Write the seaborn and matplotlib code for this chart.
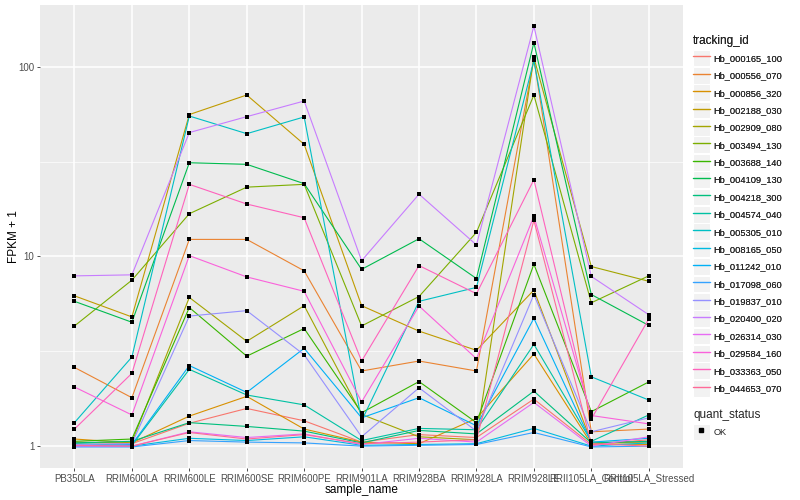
import numpy as np
import pandas as pd
import matplotlib
matplotlib.use("Agg")
import matplotlib.pyplot as plt
import seaborn as sns
from matplotlib.lines import Line2D
from matplotlib.patches import Rectangle
from matplotlib.legend_handler import HandlerLine2D
from matplotlib.ticker import FixedLocator, NullFormatter

# --- data (FPKM + 1) ---
samples = ["PB350LA", "RRIM600LA", "RRIM600LE", "RRIM600SE", "RRIM600PE", "RRIM901LA",
           "RRIM928BA", "RRIM928LA", "RRIM928LE", "RRII105LA_Control", "RRII105LA_Stressed"]

tracking_ids = ["Hb_000165_100", "Hb_000556_070", "Hb_000856_320", "Hb_002188_030",
                "Hb_002909_080", "Hb_003494_130", "Hb_003688_140", "Hb_004109_130",
                "Hb_004218_300", "Hb_004574_040", "Hb_005305_010", "Hb_008165_050",
                "Hb_011242_010", "Hb_017098_060", "Hb_019837_010", "Hb_020400_020",
                "Hb_026314_030", "Hb_029584_160", "Hb_033363_050", "Hb_044653_070"]

hb_000165_100 = [1.05, 1.03, 1.32, 1.58, 1.36, 1.05, 1.15, 1.11, 1.77, 1.02, 1.08]
hb_000556_070 = [2.6, 1.8, 12.3, 12.3, 8.4, 2.49, 2.81, 2.49, 110, 1.19, 1.23]
hb_000856_320 = [1.09, 1.04, 1.44, 1.83, 1.23, 1.05, 1.03, 1.4, 3.06, 1.03, 1.02]
hb_002188_030 = [6.2, 4.8, 56, 71, 39, 5.5, 4.04, 3.2, 6.65, 1.05, 1.04]
hb_002909_080 = [1.04, 1.05, 6.08, 3.57, 5.5, 1.47, 1.12, 1.08, 112, 8.85, 7.4]
hb_003494_130 = [4.3, 7.5, 16.8, 23.2, 24.0, 4.3, 6.15, 13.4, 71, 5.7, 7.9]
hb_003688_140 = [1.06, 1.09, 5.38, 2.98, 4.17, 1.5, 2.19, 1.33, 9.1, 1.52, 2.18]
hb_004109_130 = [5.8, 4.5, 31.2, 30.6, 24.2, 8.55, 12.4, 7.65, 134, 6.3, 4.33]
hb_004218_300 = [1.04, 1.06, 1.33, 1.27, 1.2, 1.04, 1.21, 1.16, 1.95, 1.04, 1.06]
hb_004574_040 = [1.03, 1.01, 2.54, 1.86, 1.65, 1.07, 1.24, 1.22, 3.44, 1.06, 1.46]
hb_005305_010 = [1.33, 2.95, 55, 44.4, 54.4, 1.36, 5.8, 6.87, 108, 2.32, 1.75]
hb_008165_050 = [1.0, 1.0, 1.10, 1.07, 1.12, 1.01, 1.02, 1.03, 1.24, 1.0, 1.04]
hb_011242_010 = [1.0, 1.02, 2.66, 1.92, 3.28, 1.41, 1.8, 1.28, 4.72, 1.05, 1.1]
hb_017098_060 = [0.99, 0.99, 1.07, 1.05, 1.04, 1.0, 1.01, 1.02, 1.18, 0.99, 1.0]
hb_019837_010 = [1.02, 1.03, 4.85, 5.18, 3.03, 1.12, 2.03, 1.2, 6.3, 1.19, 1.41]
hb_020400_020 = [7.9, 8.0, 45, 54.6, 66, 9.5, 21.3, 11.5, 164, 7.85, 4.93]
hb_026314_030 = [1.0, 1.0, 1.19, 1.11, 1.16, 1.02, 1.1, 1.05, 1.7, 1.0, 1.12]
hb_029584_160 = [2.05, 1.46, 10.1, 7.8, 6.55, 1.71, 5.48, 2.89, 16.3, 1.45, 1.31]
hb_033363_050 = [1.23, 2.42, 24, 18.9, 16, 2.81, 8.95, 6.36, 25.4, 1.39, 4.68]
hb_044653_070 = [1.01, 1.0, 1.18, 1.09, 1.15, 1.03, 1.05, 1.08, 15.5, 1.03, 1.0]

series = [hb_000165_100, hb_000556_070, hb_000856_320, hb_002188_030, hb_002909_080,
          hb_003494_130, hb_003688_140, hb_004109_130, hb_004218_300, hb_004574_040,
          hb_005305_010, hb_008165_050, hb_011242_010, hb_017098_060, hb_019837_010,
          hb_020400_020, hb_026314_030, hb_029584_160, hb_033363_050, hb_044653_070]


# ggplot2 hue_pal(): HCL with c=100, l=65
def hcl_hex(h, c=100.0, l=65.0):
    hr = np.deg2rad(h)
    u, v = c * np.cos(hr), c * np.sin(hr)
    xn, yn, zn = 95.047, 100.0, 108.883
    un = 4 * xn / (xn + 15 * yn + 3 * zn)
    vn = 9 * yn / (xn + 15 * yn + 3 * zn)
    y = yn * ((l + 16) / 116) ** 3
    up = u / (13 * l) + un
    vp = v / (13 * l) + vn
    x = y * 9 * up / (4 * vp)
    z = y * (12 - 3 * up - 20 * vp) / (4 * vp)
    m = np.array([[3.2404542, -1.5371385, -0.4985314],
                  [-0.9692660, 1.8760108, 0.0415560],
                  [0.0556434, -0.2040259, 1.0572252]])
    rgb = m @ (np.array([x, y, z]) / 100)
    rgb = np.where(rgb > 0.0031308, 1.055 * np.power(np.clip(rgb, 0, None), 1 / 2.4) - 0.055, 12.92 * rgb)
    rgb = np.clip(rgb, 0, 1)
    return "#%02x%02x%02x" % tuple(int(round(c * 255)) for c in rgb)


n = len(tracking_ids)
colors = [hcl_hex(15 + 360 * i / n) for i in range(n)]
palette = dict(zip(tracking_ids, colors))

rows = []
for tid, vals in zip(tracking_ids, series):
    for s, v in zip(samples, vals):
        rows.append({"tracking_id": tid, "sample_name": s, "fpkm": v, "quant_status": "OK"})
df = pd.DataFrame(rows)

# --- plot ---
sns.set_theme(style="darkgrid")
plt.rcParams["font.family"] = ["Liberation Sans", "DejaVu Sans"]

fig = plt.figure(figsize=(8, 5), dpi=100)
ax = fig.add_axes([0.05, 0.064, 0.804, 0.926])
ax.set_facecolor("#EBEBEB")

sns.lineplot(data=df, x="sample_name", y="fpkm", hue="tracking_id", palette=palette,
             estimator=None, sort=False, linewidth=0.8, legend=False, ax=ax)
sns.scatterplot(data=df, x="sample_name", y="fpkm", color="black", marker="s",
                s=9, linewidth=0, legend=False, ax=ax, zorder=5)

ax.set_yscale("log")
lo, hi = np.log10(df["fpkm"].min()), np.log10(df["fpkm"].max())
pad = 0.05 * (hi - lo)
ax.set_ylim(10 ** (lo - pad), 10 ** (hi + pad))
ax.set_xlim(-0.6, len(samples) - 0.4)
ax.set_yticks([1, 10, 100])
ax.set_yticklabels(["1", "10", "100"])
ax.yaxis.set_minor_locator(FixedLocator([10 ** 0.5, 10 ** 1.5]))
ax.yaxis.set_minor_formatter(NullFormatter())

ax.grid(True, which="major", color="white", linewidth=1.1)
ax.grid(True, which="minor", axis="y", color="white", linewidth=0.5)
for sp in ax.spines.values():
    sp.set_visible(False)
ax.tick_params(axis="both", which="major", length=2.5, width=0.6, color="#333333",
               labelsize=7, labelcolor="#4D4D4D", pad=1.5, bottom=True, left=True)
ax.tick_params(axis="y", which="minor", length=0)
ax.set_xlabel("sample_name", fontsize=8.5, color="black", labelpad=0)
ax.set_ylabel("FPKM + 1", fontsize=8.5, color="black", labelpad=-1)


class KeyHandler(HandlerLine2D):
    def create_artists(self, legend, orig_handle, xdescent, ydescent, width, height, fontsize, trans):
        ext = 0.24 * fontsize
        rect = Rectangle((-xdescent, -ydescent - ext), width, height + 2 * ext,
                         facecolor="#F2F2F2", edgecolor="white", linewidth=0.8, transform=trans)
        arts = super().create_artists(legend, orig_handle, xdescent, ydescent, width, height, fontsize, trans)
        return [rect] + arts


leg_kw = dict(loc="upper left", frameon=False, fontsize=6.7, title_fontsize=8.5,
              handlelength=1.75, handleheight=1.65, labelspacing=0.55, handletextpad=0.4,
              borderaxespad=0, alignment="left", handler_map={Line2D: KeyHandler()})

line_handles = [Line2D([], [], color=palette[t], linewidth=1.0) for t in tracking_ids]
leg1 = fig.legend(line_handles, tracking_ids, title="tracking_id",
                  bbox_to_anchor=(0.862, 0.938), **leg_kw)
fig.add_artist(leg1)

ok_handle = Line2D([], [], color="black", marker="s", markersize=2.6, linestyle="none")
fig.legend([ok_handle], ["OK"], title="quant_status", bbox_to_anchor=(0.862, 0.19), **leg_kw)

fig.savefig("out.png", dpi=100, facecolor="white")
